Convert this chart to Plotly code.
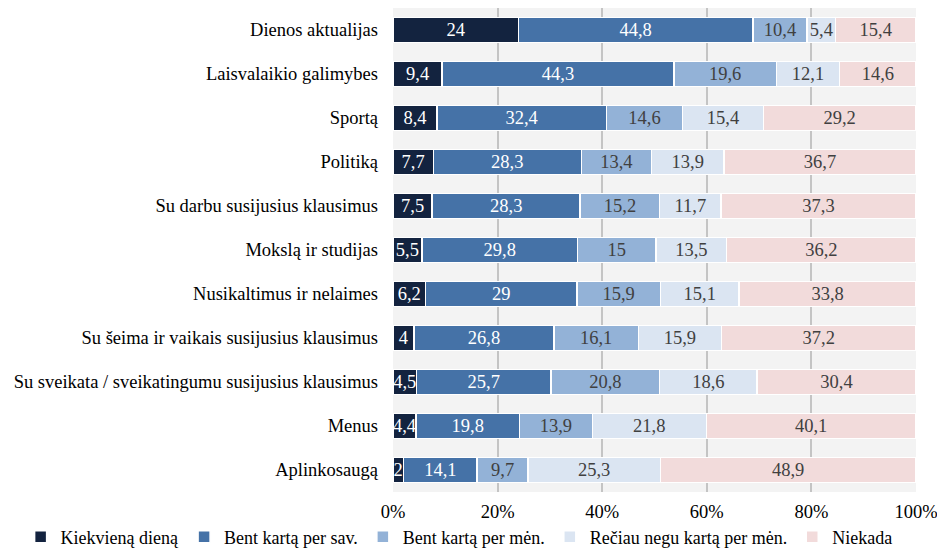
import plotly.graph_objects as go

categories = [
    "Dienos aktualijas",
    "Laisvalaikio galimybes",
    "Sportą",
    "Politiką",
    "Su darbu susijusius klausimus",
    "Mokslą ir studijas",
    "Nusikaltimus ir nelaimes",
    "Su šeima ir vaikais susijusius klausimus",
    "Su sveikata / sveikatingumu susijusius klausimus",
    "Menus",
    "Aplinkosaugą",
]

kiekviena_diena = [24, 9.4, 8.4, 7.7, 7.5, 5.5, 6.2, 4, 4.5, 4.4, 2]
kas_savaite = [44.8, 44.3, 32.4, 28.3, 28.3, 29.8, 29, 26.8, 25.7, 19.8, 14.1]
kas_menesi = [10.4, 19.6, 14.6, 13.4, 15.2, 15, 15.9, 16.1, 20.8, 13.9, 9.7]
reciau = [5.4, 12.1, 15.4, 13.9, 11.7, 13.5, 15.1, 15.9, 18.6, 21.8, 25.3]
niekada = [15.4, 14.6, 29.2, 36.7, 37.3, 36.2, 33.8, 37.2, 30.4, 40.1, 48.9]

series_names = [
    "Kiekvieną dieną",
    "Bent kartą per sav.",
    "Bent kartą per mėn.",
    "Rečiau negu kartą per mėn.",
    "Niekada",
]
series_values = [kiekviena_diena, kas_savaite, kas_menesi, reciau, niekada]
colors = ["#13233f", "#4572a7", "#93b2d7", "#dbe5f2", "#f2dbdb"]
text_colors = ["#ffffff", "#ffffff", "#404040", "#404040", "#404040"]

tick_values = [0, 20, 40, 60, 80, 100]
tick_labels = ["0%", "20%", "40%", "60%", "80%", "100%"]

FONT = "Liberation Serif, Times New Roman, serif"
SIZE = 18.5


def fmt(v):
    s = f"{v:g}"
    return s.replace(".", ",")


fig = go.Figure()
for name, vals, col, tcol in zip(series_names, series_values, colors, text_colors):
    fig.add_trace(
        go.Bar(
            name=name,
            y=categories,
            x=vals,
            orientation="h",
            width=0.56,
            marker=dict(color=col, line=dict(color="#ffffff", width=1.5)),
            text=[fmt(v) for v in vals],
            textposition="inside",
            insidetextanchor="middle",
            textangle=0,
            textfont=dict(family=FONT, size=SIZE, color=tcol),
            constraintext="none",
            cliponaxis=False,
        )
    )

fig.update_layout(
    barmode="stack",
    width=937,
    height=550,
    margin=dict(l=393, r=21, t=8, b=58, autoexpand=False),
    paper_bgcolor="#ffffff",
    plot_bgcolor="#f3f3f3",
    font=dict(family=FONT, size=SIZE, color="#000000"),
    uniformtext=dict(mode="show", minsize=SIZE),
    legend=dict(
        orientation="h",
        traceorder="normal",
        x=-0.712,
        xanchor="left",
        y=-0.093,
        yanchor="middle",
        font=dict(family=FONT, size=18, color="#000000"),
        itemwidth=30,
        bgcolor="rgba(0,0,0,0)",
    ),
    showlegend=True,
)

fig.update_xaxes(
    range=[0, 100.001],
    tickvals=tick_values,
    ticktext=tick_labels,
    showgrid=True,
    gridcolor="#c4c4c4",
    gridwidth=2,
    zeroline=False,
    showline=False,
    ticks="",
    ticklabelstandoff=6,
    ticklabeloverflow="allow",
    tickfont=dict(family=FONT, size=SIZE, color="#000000"),
    fixedrange=True,
)
fig.update_yaxes(
    autorange="reversed",
    showgrid=False,
    ticks="",
    ticklabelstandoff=14,
    tickfont=dict(family=FONT, size=SIZE, color="#000000"),
    fixedrange=True,
)

fig.write_html("out.html")
